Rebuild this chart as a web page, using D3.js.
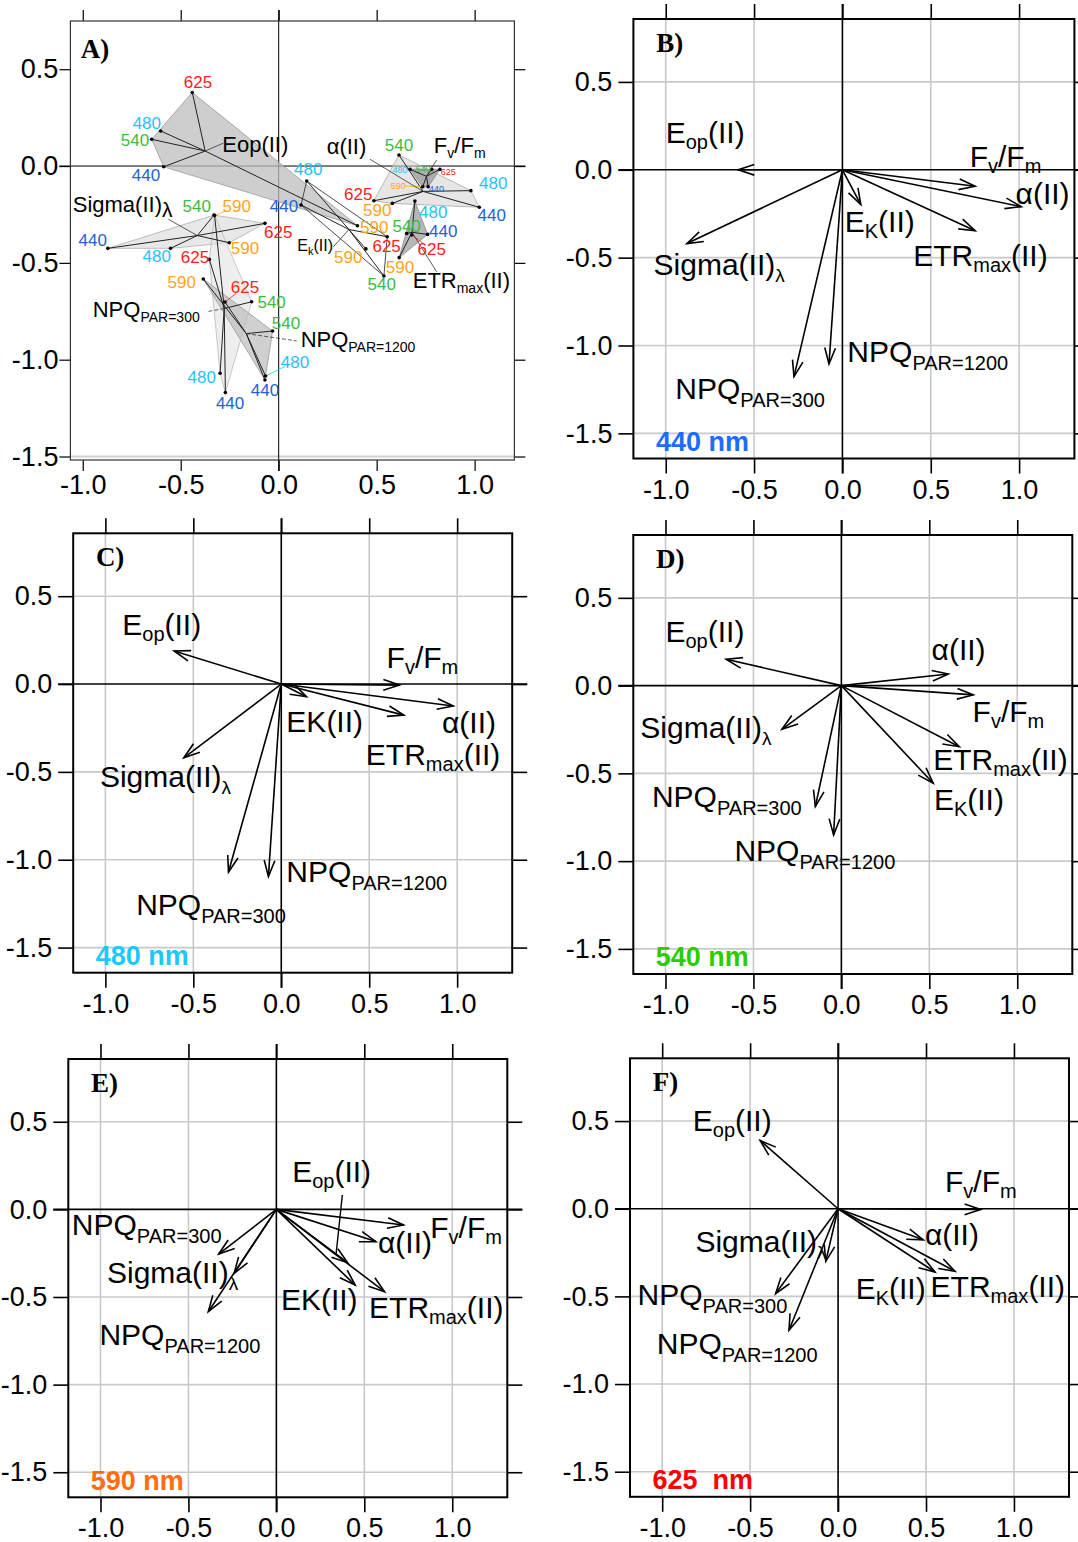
<!DOCTYPE html>
<html><head><meta charset="utf-8">
<script src="https://cdn.jsdelivr.net/npm/d3@7"></script>
<style>body{margin:0;background:#fff;}</style>
</head><body>
<script>
// ---------------- DATA ----------------
const wavelengths = ["440", "480", "540", "590", "625"];
const waveColors = ["#2262d6", "#1fc3f7", "#3dbb3d", "#ffa323", "#ff2020"];
const variables = ["Eop", "Fv", "alpha", "Ek", "ETR", "Sigma", "NPQ300", "NPQ1200"];
const xTicks = [-1.0, -0.5, 0.0, 0.5, 1.0];
const yTicks = [0.5, 0.0, -0.5, -1.0, -1.5];

// Panel A: per-variable coordinates for each wavelength (440,480,540,590,625)
const aEop     = [[-0.587,-0.004],[-0.602,0.181],[-0.648,0.138],[0.402,-0.308],[-0.441,0.380]];
const aSigma   = [[-0.872,-0.425],[-0.552,-0.425],[-0.330,-0.253],[-0.252,-0.396],[-0.070,-0.296]];
const aNPQ300  = [[-0.272,-1.170],[-0.299,-1.070],[-0.138,-0.701],[-0.327,-0.256],[-0.354,-0.482]];
const aNPQ1200 = [[-0.070,-1.105],[-0.067,-1.084],[-0.031,-0.852],[-0.385,-0.583],[-0.274,-0.702]];
const aAlpha   = [[1.024,-0.213],[0.981,-0.127],[0.614,0.057],[0.580,-0.193],[0.486,-0.179]];
const aFv      = [[0.763,-0.107],[0.670,-0.017],[0.781,-0.017],[0.735,-0.107],[0.823,-0.017]];
const aETR     = [[0.760,-0.353],[0.695,-0.181],[0.653,-0.348],[0.615,-0.473],[0.679,-0.356]];
const aEk      = [[0.114,-0.201],[0.143,-0.077],[0.537,-0.568],[0.445,-0.428],[0.554,-0.365]];
// Panel A: wavelength label anchors (data units)
const aEopLab     = [[-0.677,-0.046],[-0.673,0.222],[-0.733,0.134],[0.488,-0.313],[-0.412,0.435]];
const aSigmaLab   = [[-0.949,-0.382],[-0.622,-0.465],[-0.418,-0.207],[-0.172,-0.425],[-0.002,-0.339]];
const aNPQ300Lab  = [[-0.248,-1.225],[-0.393,-1.088],[-0.036,-0.701],[-0.214,-0.207],[-0.427,-0.468]];
const aNPQ1200Lab = [[-0.070,-1.156],[0.083,-1.010],[0.037,-0.809],[-0.495,-0.597],[-0.172,-0.623]];
const aAlphaLab   = [[1.087,-0.253],[1.095,-0.089],[0.614,0.108],[0.503,-0.227],[0.406,-0.145]];
const aFvLab      = [[0.806,-0.115],[0.619,-0.021],[0.738,-0.012],[0.610,-0.102],[0.865,-0.029]];
const aETRLab     = [[0.840,-0.334],[0.789,-0.236],[0.653,-0.310],[0.619,-0.520],[0.781,-0.430]];
const aEkLab      = [[0.027,-0.207],[0.151,-0.017],[0.526,-0.609],[0.355,-0.468],[0.551,-0.413]];
// Panel A: variable-name label anchors and leader-line ends
const aNameLab = [[-0.288,0.074],[0.792,0.066],[0.245,0.062],[0.095,-0.437],[0.684,-0.631],[-1.051,-0.236],[-0.949,-0.778],[0.112,-0.936]];
const aLeadEnd = [[-0.283,0.118],[0.806,0.031],[0.466,0.035],[0.279,-0.417],[0.806,-0.546],[-0.563,-0.275],[-0.367,-0.752],[0.092,-0.903]];

// Panels B-F: loading vectors (order = variables)
const vec440 = [[-0.59,0.0],[0.751,-0.094],[1.012,-0.21],[0.104,-0.198],[0.751,-0.347],[-0.88,-0.42],[-0.274,-1.177],[-0.076,-1.105]];
const vec480 = [[-0.609,0.188],[0.672,-0.006],[0.978,-0.125],[0.143,-0.072],[0.697,-0.177],[-0.554,-0.42],[-0.30,-1.07],[-0.073,-1.095]];
const vec540 = [[-0.655,0.150],[0.750,-0.053],[0.608,0.066],[0.522,-0.556],[0.670,-0.348],[-0.338,-0.249],[-0.148,-0.689],[-0.044,-0.851]];
const vec590 = [[0.405,-0.304],[0.723,-0.089],[0.566,-0.184],[0.448,-0.432],[0.615,-0.47],[-0.24,-0.365],[-0.328,-0.255],[-0.387,-0.584]];
const vec625 = [[-0.443,0.389],[0.811,-0.004],[0.484,-0.177],[0.551,-0.361],[0.665,-0.357],[-0.07,-0.30],[-0.355,-0.484],[-0.279,-0.693]];
// Panels B-F: label anchors (left, baseline) in data units
const lab440 = [[-1.0,0.155],[0.72,0.017],[0.98,-0.195],[0.013,-0.355],[0.401,-0.548],[-1.069,-0.6],[-0.946,-1.305],[0.028,-1.095]];
const lab480 = [[-0.904,0.28],[0.599,0.089],[0.914,-0.281],[0.029,-0.272],[0.481,-0.462],[-1.031,-0.586],[-0.825,-1.317],[0.029,-1.127]];
const lab540 = [[-1.0,0.251],[0.746,-0.205],[0.513,0.146],[0.526,-0.708],[0.522,-0.48],[-1.143,-0.30],[-1.077,-0.689],[-0.608,-0.997]];
const lab590 = [[0.09,0.158],[0.875,-0.165],[0.578,-0.251],[0.026,-0.574],[0.527,-0.622],[-0.963,-0.422],[-1.163,-0.146],[-1.006,-0.774]];
const lab625 = [[-0.826,0.443],[0.608,0.095],[0.494,-0.209],[0.10,-0.513],[0.526,-0.503],[-0.811,-0.247],[-1.14,-0.551],[-1.031,-0.826]];
const panelLetters = ["A)", "B)", "C)", "D)", "E)", "F)"];
const panelWaveText = ["440 nm", "480 nm", "540 nm", "590 nm", "625  nm"];
const panelWaveColor = ["#1a6dff", "#1ec8ff", "#2ccc00", "#ff6d10", "#ff0000"];

// ---------------- RENDER ----------------
const FONT = 'Arial, "Liberation Sans", sans-serif';
const SERIF = '"Liberation Serif", "Times New Roman", serif';
const svg = d3.select("body").append("svg").attr("width", 1078).attr("height", 1542);

function richText(g, x, y, segs, size, subSize, shift) {
  const t = g.append("text").attr("x", x).attr("y", y).attr("font-size", size).attr("fill", "#000").attr("font-family", FONT);
  let inSub = false;
  segs.forEach(([s, sub]) => {
    const ts = t.append("tspan").text(s);
    if (sub) { ts.attr("font-size", subSize); if (!inSub) { ts.attr("dy", shift); inSub = true; } }
    else if (inSub) { ts.attr("dy", -shift); inSub = false; }
  });
  return t;
}
const specs = {
  Eop: [["E",0],["op",1],["(II)",0]],
  Fv: [["F",0],["v",1],["/F",0],["m",1]],
  alpha: [["α(II)",0]],
  EkSub: [["E",0],["K",1],["(II)",0]],
  EkPlain: [["EK(II)",0]],
  ETR: [["ETR",0],["max",1],["(II)",0]],
  Sigma: [["Sigma(II)",0],["λ",1]],
  NPQ300: [["NPQ",0],["PAR=300",1]],
  NPQ1200: [["NPQ",0],["PAR=1200",1]]
};

function drawFrame(g, sc, p, o) {
  const {x, y} = sc;
  const L = p.left, R = p.left + p.w, T = p.top, B = p.top + p.h;
  if (o.grid) {
    g.selectAll(null).data(o.gx).join("line")
      .attr("x1", d => x(d)).attr("x2", d => x(d)).attr("y1", T).attr("y2", B)
      .attr("stroke", "#c9c9c9").attr("stroke-width", 1.6);
    g.selectAll(null).data(o.gy).join("line")
      .attr("y1", d => y(d)).attr("y2", d => y(d)).attr("x1", L).attr("x2", R)
      .attr("stroke", "#c9c9c9").attr("stroke-width", 1.6);
  }
  const fmt = d => d.toFixed(1);
  const mk = (axis, tx, ty) => {
    const a = g.append("g").attr("transform", `translate(${tx},${ty})`).call(axis);
    a.select(".domain").remove();
    a.selectAll("line").attr("stroke", "#000").attr("stroke-width", o.tw);
    a.selectAll("text").attr("font-size", o.fs).attr("font-family", FONT).attr("fill", "#000");
    return a;
  };
  mk(d3.axisLeft(y).tickValues(yTicks).tickSize(o.tick).tickPadding(o.padL).tickFormat(fmt), L, 0);
  mk(d3.axisRight(y).tickValues(yTicks).tickSize(o.tick).tickFormat(""), R, 0);
  mk(d3.axisTop(x).tickValues(xTicks).tickSize(o.tick).tickFormat(""), 0, T);
  mk(d3.axisBottom(x).tickValues(xTicks).tickSize(o.tick).tickPadding(o.padB).tickFormat(fmt), 0, B);
  g.append("line").attr("x1", L - o.tick).attr("x2", R + o.tick).attr("y1", y(0)).attr("y2", y(0))
    .attr("stroke", "#000").attr("stroke-width", o.zw);
  g.append("line").attr("x1", x(0)).attr("x2", x(0)).attr("y1", T - o.tick).attr("y2", B + o.tick)
    .attr("stroke", "#000").attr("stroke-width", o.zw);
  g.append("rect").attr("x", L).attr("y", T).attr("width", p.w).attr("height", p.h)
    .attr("fill", "none").attr("stroke", o.boxColor).attr("stroke-width", o.bw);
}

// ---------- Panel A ----------
(function () {
  const p = {left: 70.4, top: 21, w: 444, h: 439};
  const x = d3.scaleLinear().domain([-1.063, 1.203]).range([p.left, p.left + p.w]);
  const y = d3.scaleLinear().domain([-1.518, 0.749]).range([p.top + p.h, p.top]);
  const g = svg.append("g");
  g.append("line").attr("x1", p.left).attr("x2", p.left + p.w).attr("y1", y(-1.5)).attr("y2", y(-1.5))
    .attr("stroke", "#d0d0d0").attr("stroke-width", 2);
  drawFrame(g, {x, y}, p, {grid: false, tick: 11, padL: 1, padB: 4, tw: 1.2, zw: 1, boxColor: "#333", bw: 1.2, fs: 27});

  const groups = [
    {pts: aEop, lab: aEopLab, fill: "#bdbdbd", fo: 0.75, stroke: "#999"},
    {pts: aFv, lab: aFvLab, fill: "#9a9a9a", fo: 0.75, stroke: "#888", small: true},
    {pts: aAlpha, lab: aAlphaLab, fill: "#d6d6d6", fo: 0.6, stroke: "#aaa"},
    {pts: aEk, lab: aEkLab, fill: "#ffffff", fo: 0.0, stroke: "#222"},
    {pts: aETR, lab: aETRLab, fill: "#a5a5a5", fo: 0.8, stroke: "#888"},
    {pts: aSigma, lab: aSigmaLab, fill: "#d9d9d9", fo: 0.6, stroke: "#b0b0b0"},
    {pts: aNPQ300, lab: aNPQ300Lab, fill: "#e3e3e3", fo: 0.6, stroke: "#bbb"},
    {pts: aNPQ1200, lab: aNPQ1200Lab, fill: "#bcbcbc", fo: 0.7, stroke: "#999"}
  ];
  const leaders = [[6, 3], [7, 4], [7, 1], [1, 0], [1, 1], [1, 2], [1, 3], [1, 4], [2, 3], [4, 2], [4, 4]];
  const order = [0, 5, 6, 7, 2, 3, 1, 4];
  order.forEach(i => {
    const gr = groups[i];
    const hull = d3.polygonHull(gr.pts.map(d => [x(d[0]), y(d[1])]));
    g.append("path").attr("d", "M" + hull.join("L") + "Z")
      .attr("fill", gr.fill).attr("fill-opacity", gr.fo).attr("stroke", gr.stroke).attr("stroke-width", 0.8);
  });
  groups.forEach(gr => {
    const c = [d3.mean(gr.pts, d => d[0]), d3.mean(gr.pts, d => d[1])];
    gr.c = c;
    g.selectAll(null).data(gr.pts).join("line")
      .attr("x1", x(c[0])).attr("y1", y(c[1])).attr("x2", d => x(d[0])).attr("y2", d => y(d[1]))
      .attr("stroke", "#222").attr("stroke-width", 1);
  });
  leaders.forEach(([gi, wi]) => {
    const gr = groups[gi];
    const a = gr.pts[wi], b = gr.lab[wi];
    const x1 = x(a[0]), y1 = y(a[1]), x2 = x(b[0]), y2 = y(b[1]);
    const dd = Math.hypot(x2 - x1, y2 - y1), k = Math.max(0, (dd - (gr.small ? 7 : 11)) / dd);
    g.append("line").attr("x1", x1).attr("y1", y1).attr("x2", x1 + (x2 - x1) * k).attr("y2", y1 + (y2 - y1) * k)
      .attr("stroke", waveColors[wi]).attr("stroke-width", 0.8);
  });
  groups.forEach(gr => {
    g.selectAll(null).data(gr.pts).join("circle")
      .attr("cx", d => x(d[0])).attr("cy", d => y(d[1])).attr("r", 1.8).attr("fill", "#000");
  });
  variables.forEach((v, i) => {
    const c = groups[i].c, e = aLeadEnd[i];
    const ln = g.append("line").attr("x1", x(c[0])).attr("y1", y(c[1])).attr("x2", x(e[0])).attr("y2", y(e[1]))
      .attr("stroke", "#333").attr("stroke-width", 0.8);
    if (v === "NPQ300" || v === "NPQ1200") ln.attr("stroke-dasharray", "4,2");
  });
  groups.forEach(gr => {
    g.selectAll(null).data(gr.lab).join("text")
      .attr("x", d => x(d[0])).attr("y", d => y(d[1])).attr("dy", "0.36em")
      .attr("text-anchor", "middle").attr("font-size", gr.small ? 9 : 17).attr("font-family", FONT)
      .attr("fill", (d, i) => waveColors[i]).text((d, i) => wavelengths[i]);
  });
  const aSpecs = [
    [["Eop(II)", 0]], specs.Fv, specs.alpha, [["E", 0], ["k", 1], ["(II)", 0]], specs.ETR,
    [["Sigma(II)", 0], ["λ", 1]], specs.NPQ300, specs.NPQ1200
  ];
  variables.forEach((v, i) => {
    const pos = aNameLab[i];
    if (v === "Ek") richText(g, x(pos[0]), y(pos[1]), aSpecs[i], 16, 11, 4);
    else if (v === "Sigma") richText(g, x(pos[0]), y(pos[1]), aSpecs[i], 22, 21, 5);
    else richText(g, x(pos[0]), y(pos[1]), aSpecs[i], 22, 14, 5);
  });
  g.append("text").attr("x", x(-1.01)).attr("y", y(0.556)).attr("font-family", SERIF).attr("font-weight", "bold")
    .attr("font-size", 27).text(panelLetters[0]);
})();

// ---------- Panels B-F ----------
const panelLayout = [
  {left: 633.4, top: 19, w: 441, h: 439.5},
  {left: 73.2, top: 533.3, w: 439, h: 439.4},
  {left: 633.3, top: 535, w: 439, h: 439},
  {left: 68.3, top: 1059, w: 439, h: 438.3},
  {left: 630, top: 1058.3, w: 439, h: 438.5}
];
const panelVecs = [vec440, vec480, vec540, vec590, vec625];
const panelLabs = [lab440, lab480, lab540, lab590, lab625];
const ekPlain = [false, true, false, true, false];

panelLayout.forEach((p, k) => {
  const x = d3.scaleLinear().domain([-1.183, 1.313]).range([p.left, p.left + p.w]);
  const y = d3.scaleLinear().domain([-1.643, 0.858]).range([p.top + p.h, p.top]);
  const g = svg.append("g");
  drawFrame(g, {x, y}, p, {grid: true, gx: xTicks.filter(d => d !== 0), gy: yTicks.filter(d => d !== 0),
    tick: 15, padL: 6, padB: 6, tw: 1.6, zw: 1.6, boxColor: "#000", bw: 2, fs: 27});
  const vecs = panelVecs[k], labs = panelLabs[k];
  const x0 = x(0), y0 = y(0);
  g.selectAll(null).data(vecs).join("line")
    .attr("x1", x0).attr("y1", y0).attr("x2", d => x(d[0])).attr("y2", d => y(d[1]))
    .attr("stroke", "#000").attr("stroke-width", 1.6);
  g.selectAll(null).data(vecs).join("path")
    .attr("d", d => {
      const x1 = x(d[0]), y1 = y(d[1]);
      const ang = Math.atan2(y1 - y0, x1 - x0), L = 17, a = 0.32;
      return `M${x1 - L * Math.cos(ang - a)},${y1 - L * Math.sin(ang - a)}L${x1},${y1}L${x1 - L * Math.cos(ang + a)},${y1 - L * Math.sin(ang + a)}`;
    })
    .attr("fill", "none").attr("stroke", "#000").attr("stroke-width", 1.6);
  if (k === 3) { // leader line from E_op label in 590 nm panel
    g.append("line").attr("x1", x(0.375)).attr("y1", y(0.082)).attr("x2", x(0.34)).attr("y2", y(-0.251))
      .attr("stroke", "#000").attr("stroke-width", 1.4);
  }
  variables.forEach((v, i) => {
    let sp = specs[v];
    if (v === "Ek") sp = ekPlain[k] ? specs.EkPlain : specs.EkSub;
    const pos = labs[i];
    if (v === "Sigma") richText(g, x(pos[0]), y(pos[1]), sp, 30, 19, 7);
    else if (v === "NPQ300" || v === "NPQ1200") richText(g, x(pos[0]), y(pos[1]), sp, 30, 20, 8);
    else richText(g, x(pos[0]), y(pos[1]), sp, 30, 20, 6);
  });
  g.append("text").attr("x", x(-1.054)).attr("y", y(0.672)).attr("font-family", SERIF).attr("font-weight", "bold")
    .attr("font-size", 27).text(panelLetters[k + 1]);
  g.append("text").attr("x", x(-1.055)).attr("y", y(-1.60)).attr("font-family", FONT).attr("font-weight", "bold")
    .attr("font-size", 27).attr("fill", panelWaveColor[k]).style("white-space", "pre").text(panelWaveText[k]);
});
</script>
</body></html>
